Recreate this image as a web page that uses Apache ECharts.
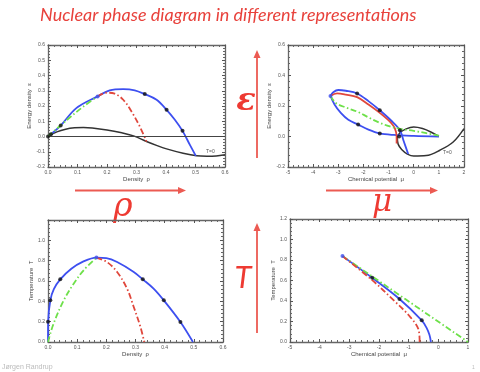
<!DOCTYPE html>
<html>
<head>
<meta charset="utf-8">
<script src="https://cdn.jsdelivr.net/npm/echarts@6/dist/echarts.min.js"></script>
<style>
  html, body { margin: 0; padding: 0; background: #fff; }
  #chart { width: 480px; height: 372px; }
</style>
</head>
<body>
<div id="chart"></div>
<script>
// energy density vs density
const blackEpsRho = [[0, 0], [0.03, 0.03], [0.06, 0.048], [0.09, 0.057], [0.12, 0.059], [0.15, 0.056], [0.2, 0.043], [0.25, 0.024], [0.29, 0.004], [0.334, -0.033], [0.37, -0.06], [0.402, -0.081], [0.458, -0.11], [0.504, -0.127], [0.538, -0.13], [0.57, -0.128], [0.6, -0.12]]
const blueEpsRho = [[0, 0], [0.043, 0.072], [0.096, 0.186], [0.168, 0.263], [0.209, 0.303], [0.255, 0.311], [0.294, 0.303], [0.328, 0.278], [0.368, 0.241], [0.402, 0.175], [0.43, 0.11], [0.456, 0.037], [0.481, -0.055], [0.501, -0.127]]
const greenEpsRho = [[0, 0], [0.062, 0.105], [0.119, 0.195], [0.168, 0.263]]
const redEpsRho = [[0.168, 0.263], [0.198, 0.287], [0.226, 0.281], [0.255, 0.241], [0.283, 0.164], [0.311, 0.066], [0.334, -0.033]]
const dotsEpsRho = [[0, 0], [0.01, 0.015], [0.043, 0.072], [0.328, 0.278], [0.402, 0.175], [0.456, 0.037]]
const critEpsRho = [[0.168, 0.263]]

// energy density vs chemical potential
const blackEpsMu = [[1, 0], [0.7, 0.028], [0.35, 0.052], [0, 0.062], [-0.3, 0.05], [-0.55, 0.024], [-0.65, -0.01], [-0.62, -0.05], [-0.48, -0.085], [-0.25, -0.115], [0, -0.128], [0.5, -0.125], [1.04, -0.09], [1.57, -0.036], [2, 0.052]]
const blueUpperEpsMu = [[-3.31, 0.266], [-3.2, 0.29], [-3.0, 0.305], [-2.7, 0.3], [-2.25, 0.282], [-1.8, 0.232], [-1.35, 0.172], [-0.9, 0.105], [-0.55, 0.041], [-0.4, -0.03], [-0.22, -0.115]]
const blueLowerEpsMu = [[-3.31, 0.266], [-3.15, 0.21], [-2.9, 0.155], [-2.6, 0.11], [-2.21, 0.078], [-1.8, 0.045], [-1.35, 0.02], [-0.8, 0.01], [0, 0.004], [1, 0]]
const redEpsMu = [[-3.31, 0.266], [-3.05, 0.283], [-2.7, 0.275], [-2.25, 0.258], [-1.8, 0.21], [-1.35, 0.155], [-0.9, 0.09], [-0.75, 0.053], [-0.68, 0.0], [-0.68, -0.046]]
const greenEpsMu = [[-3.31, 0.266], [-3.1, 0.22], [-2.7, 0.19], [-2.2, 0.16], [-1.8, 0.125], [-1.35, 0.09], [-0.95, 0.066], [-0.55, 0.05], [0, 0.037], [0.5, 0.022], [1, 0.005]]
const dotsEpsMu = [[-2.25, 0.282], [-1.35, 0.172], [-0.55, 0.041], [-2.21, 0.078], [-1.35, 0.02], [-0.58, 0.0]]
const critEpsMu = [[-3.31, 0.266]]

// temperature vs density
const blueTRho = [[0, 0], [0.0005, 0.2], [0.008, 0.41], [0.02, 0.52], [0.042, 0.616], [0.08, 0.72], [0.12, 0.79], [0.166, 0.83], [0.2, 0.825], [0.237, 0.787], [0.294, 0.689], [0.325, 0.616], [0.362, 0.525], [0.397, 0.41], [0.454, 0.197], [0.497, 0]]
const greenTRho = [[0, 0], [0.019, 0.18], [0.054, 0.41], [0.088, 0.574], [0.122, 0.705], [0.166, 0.83]]
const redTRho = [[0.166, 0.83], [0.202, 0.787], [0.237, 0.689], [0.271, 0.525], [0.294, 0.344], [0.317, 0.148], [0.33, 0]]
const dotsTRho = [[0, 0.2], [0.008, 0.41], [0.042, 0.616], [0.325, 0.616], [0.397, 0.41], [0.454, 0.197]]
const critTRho = [[0.166, 0.83]]

// temperature vs chemical potential
const blueTMu = [[-3.23, 0.838], [-2.23, 0.626], [-1.31, 0.42], [-0.56, 0.212], [-0.4, 0.14], [-0.3, 0.07], [-0.25, 0]]
const redTMu = [[-3.23, 0.838], [-2.23, 0.603], [-1.51, 0.408], [-0.95, 0.245], [-0.66, 0.114], [-0.63, 0]]
const greenTMu = [[-3.23, 0.838], [1, 0]]
const dotsTMu = [[-2.23, 0.626], [-1.31, 0.42], [-0.56, 0.212]]
const critTMu = [[-3.23, 0.838]]

const BLUE = '#3d4ff0'
const RED = '#e0473c'
const GREEN = '#6ee04a'
const BLACK = '#333'
const DASHDOT = [6, 2.5, 1.5, 2.5]

const grids = [
  { left: 48, top: 45, width: 177, height: 122 },
  { left: 288, top: 45, width: 176, height: 122 },
  { left: 48, top: 220, width: 175, height: 122 },
  { left: 290, top: 219, width: 178, height: 123 }
].map(g => Object.assign({ outerBoundsMode: 'none', show: false }, g))

function fmt1(v) { return v.toFixed(1) }
function fmt0(v) { return String(Math.round(v)) }

function axisPair(kind, gridIndex, min, max, interval, formatter, name, nameGap, hideMax) {
  const isX = kind === 'x'
  const base = {
    gridIndex, type: 'value', min, max, interval,
    splitLine: { show: false },
    axisLine: { show: true, onZero: false, lineStyle: { color: '#666', width: 1.3 } },
    axisTick: { show: true, inside: true, length: 3, lineStyle: { color: '#555' } },
    minorTick: { show: true, splitNumber: 5, length: 2, lineStyle: { color: '#666' } }
  }
  const main = Object.assign({}, base, {
    position: isX ? 'bottom' : 'left',
    name, nameLocation: 'middle', nameGap,
    nameTextStyle: { fontSize: 6, color: '#444', fontFamily: 'Liberation Sans' },
    axisLabel: {
      fontSize: 5, color: '#555', margin: 3, fontFamily: 'Liberation Sans',
      formatter: v => (hideMax && Math.abs(v - max) < 1e-9) ? '' : formatter(v)
    }
  })
  const mirror = Object.assign({}, base, {
    position: isX ? 'top' : 'right',
    axisLabel: { show: false }
  })
  return [main, mirror]
}

const xAxis = [
  ...axisPair('x', 0, 0, 0.6, 0.1, fmt1, 'Density  ρ', 8),
  ...axisPair('x', 1, -5, 2, 1, fmt0, 'Chemical potential  μ', 8),
  ...axisPair('x', 2, 0, 0.6, 0.1, fmt1, 'Density  ρ', 8),
  ...axisPair('x', 3, -5, 1, 1, fmt0, 'Chemical potential  μ', 8)
]
const yAxis = [
  ...axisPair('y', 0, -0.2, 0.6, 0.1, fmt1, 'Energy density  ε', 14),
  ...axisPair('y', 1, -0.2, 0.6, 0.2, fmt1, 'Energy density  ε', 14),
  ...axisPair('y', 2, 0, 1.2, 0.2, fmt1, 'Temperature  T', 14, true),
  ...axisPair('y', 3, 0, 1.2, 0.2, fmt1, 'Temperature  T', 14)
]

function line(panel, data, color, dashed, width) {
  return {
    type: 'line', xAxisIndex: panel * 2, yAxisIndex: panel * 2, data,
    smooth: 0.35, symbol: 'none', silent: true, z: dashed ? 3 : 2,
    lineStyle: { color, width: width || 1.8, type: dashed ? DASHDOT : 'solid' }
  }
}
function dots(panel, data, color, size) {
  return {
    type: 'scatter', xAxisIndex: panel * 2, yAxisIndex: panel * 2, data,
    symbolSize: size, itemStyle: { color }, z: 5, silent: true
  }
}

const series = [
  Object.assign(line(0, blackEpsRho, BLACK, false, 1.5), {
    markLine: { silent: true, symbol: 'none', label: { show: false }, lineStyle: { color: '#444', width: 1, type: 'solid' }, data: [{ yAxis: 0 }] }
  }),
  line(0, blueEpsRho, BLUE),
  line(0, greenEpsRho, GREEN, true),
  line(0, redEpsRho, RED, true),
  dots(0, dotsEpsRho, '#111', 4),
  dots(0, critEpsRho, BLUE, 4),

  line(1, blackEpsMu, BLACK, false, 1.5),
  line(1, blueUpperEpsMu, BLUE),
  line(1, blueLowerEpsMu, BLUE),
  line(1, redEpsMu, RED),
  line(1, greenEpsMu, GREEN, true),
  dots(1, dotsEpsMu, '#111', 4),
  dots(1, critEpsMu, BLUE, 4),

  line(2, blueTRho, BLUE),
  line(2, greenTRho, GREEN, true),
  line(2, redTRho, RED, true),
  dots(2, dotsTRho, '#111', 4),
  dots(2, critTRho, BLUE, 4),

  line(3, blueTMu, BLUE),
  line(3, greenTMu, GREEN, true),
  line(3, redTMu, RED, true),
  dots(3, dotsTMu, '#111', 4),
  dots(3, critTMu, BLUE, 4)
]

const ARROW = '#ec5a52'
function arrow(x1, y1, x2, y2) {
  const horiz = y1 === y2
  const head = horiz
    ? [[x2, y2], [x2 - 8, y2 - 3.5], [x2 - 8, y2 + 3.5]]
    : [[x2, y2], [x2 - 3.5, y2 + 8], [x2 + 3.5, y2 + 8]]
  return [
    { type: 'line', shape: horiz ? { x1, y1, x2: x2 - 6, y2 } : { x1, y1, x2, y2: y2 + 6 }, style: { stroke: ARROW, lineWidth: 1.8 } },
    { type: 'polygon', shape: { points: head }, style: { fill: ARROW } }
  ]
}
function bigText(x, y, text, font, style) {
  return {
    type: 'text', x, y,
    style: { text, fill: '#ee3a32', font: style + ' ' + font, align: 'center', verticalAlign: 'middle' }
  }
}

const graphic = [
  {
    type: 'text', left: 40, top: 6,
    style: { text: 'Nuclear phase diagram in different representations', fill: '#e8413b', font: 'italic 18px Lato' }
  },
  ...arrow(75, 190.5, 186, 190.5),
  ...arrow(326, 190.5, 438, 190.5),
  ...arrow(257, 158, 257, 50),
  ...arrow(257, 333, 257, 223),
  bigText(123, 207, 'ρ', '33px "DejaVu Serif"', 'italic'),
  bigText(382, 203, 'μ', '31px "DejaVu Serif"', 'italic'),
  bigText(246, 102, 'ε', 'bold 32px "DejaVu Serif"', 'italic'),
  bigText(243, 278, 'T', '31px Lato', 'italic'),
  { type: 'text', x: 206, y: 149, style: { text: 'T=0', fill: '#555', font: '5px "Liberation Sans"' } },
  { type: 'text', x: 443, y: 150, style: { text: 'T=0', fill: '#555', font: '5px "Liberation Sans"' } },
  { type: 'text', x: 2, y: 364, style: { text: 'Jørgen Randrup', fill: '#bbb', font: '7px "Liberation Sans"' } },
  { type: 'text', x: 472, y: 365, style: { text: '1', fill: '#bbb', font: '5px "Liberation Sans"' } }
]

const chart = echarts.init(document.getElementById('chart'))
chart.setOption({
  backgroundColor: '#fff',
  animation: false,
  grid: grids,
  xAxis,
  yAxis,
  series,
  graphic
})
</script>
</body>
</html>
